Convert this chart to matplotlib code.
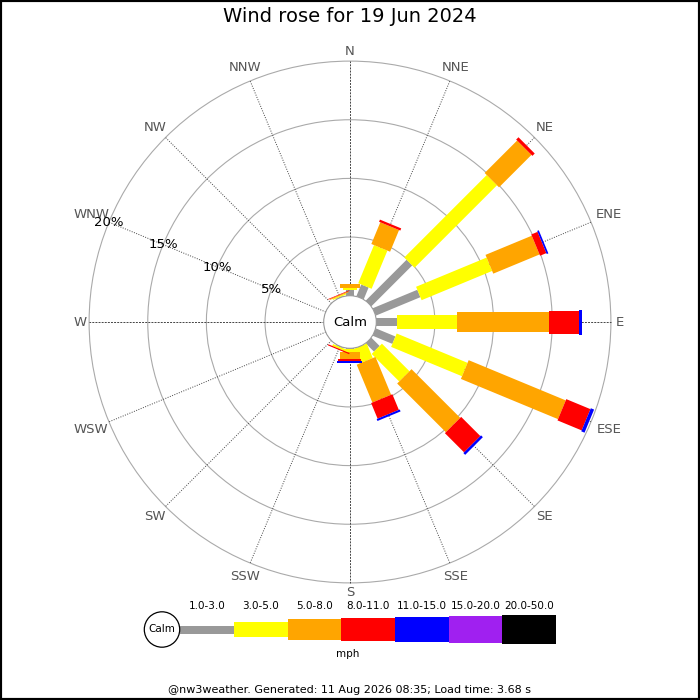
import matplotlib
matplotlib.use('Agg')
import matplotlib.pyplot as plt
import numpy as np
from matplotlib.patches import Polygon, Circle, Rectangle

directions = ['N', 'NNE', 'NE', 'ENE', 'E', 'ESE', 'SE', 'SSE',
              'S', 'SSW', 'SW', 'WSW', 'W', 'WNW', 'NW', 'NNW']
speed_bins = ['1.0-3.0', '3.0-5.0', '5.0-8.0', '8.0-11.0', '11.0-15.0', '15.0-20.0', '20.0-50.0']
bin_colors = ['#999999', '#ffff00', '#ffa500', '#ff0000', '#0000ff', '#a020f0', '#000000']

# percent of time per direction, one list per speed bin (N, NNE, ... NNW)
pct_1_3 = [0.46, 1.08, 4.92, 4.11, 1.76, 1.81, 0.99, 0.00, 0.10, 0.05, 0, 0, 0, 0, 0, 0.05]
pct_3_5 = [0.22, 3.52, 9.94, 6.51, 5.12, 6.54, 3.32, 1.34, 0.20, 0.17, 0, 0, 0, 0, 0, 0.10]
pct_5_8 = [0.32, 2.00, 3.91, 4.27, 7.84, 8.96, 5.87, 3.49, 0.64, 0.00, 0, 0, 0, 0, 0, 0.08]
pct_8_11 = [0.00, 0.20, 0.28, 0.58, 2.56, 2.23, 2.31, 1.44, 0.12, 0.10, 0, 0, 0, 0, 0, 0.05]
pct_11_15 = [0.00, 0.00, 0.00, 0.15, 0.26, 0.30, 0.22, 0.18, 0.22, 0.00, 0, 0, 0, 0, 0, 0.00]
pct_15_20 = [0] * 16
pct_20_50 = [0] * 16
ring_pcts = [5, 10, 15, 20]

title = 'Wind rose for 19 Jun 2024'
footer = '@nw3weather. Generated: 11 Aug 2026 08:35; Load time: 3.68 s'

series = [pct_1_3, pct_3_5, pct_5_8, pct_8_11, pct_11_15, pct_15_20, pct_20_50]

# layout (pixels)
W = H = 700
k = 11.73           # px per percent
cx, cy = 350, 322   # rose centre
r0 = 26.3 / k       # calm circle radius in percent units
bar_px = [8, 14.5, 20.3, 23, 25, 26.3, 28.3]

fig = plt.figure(figsize=(7, 7), dpi=100)
ax = fig.add_axes([0, 0, 1, 1])
ax.set_xlim(-cx / k, (W - cx) / k)
ax.set_ylim(-(H - cy) / k, cy / k)
ax.axis('off')

rmax = r0 + ring_pcts[-1]
theta = np.deg2rad(90 - 22.5 * np.arange(16))

# grid
for p in ring_pcts:
    ax.add_patch(Circle((0, 0), r0 + p, fill=False, ec='#aaaaaa', lw=0.8, zorder=1))
for i, t in enumerate(theta):
    ls = (0, (2, 1.2)) if i % 4 == 0 else (0, (1, 1.5))
    ax.plot([r0 * np.cos(t), rmax * np.cos(t)], [r0 * np.sin(t), rmax * np.sin(t)],
            color='#444444', lw=0.7, ls=ls, zorder=1)

# compass labels
for lab, t in zip(directions, theta):
    wpx = 9.3 * len(lab)
    rr = rmax + (4.5 + 0.5 * wpx * abs(np.cos(t)) + 5 * abs(np.sin(t))) / k
    ax.text(rr * np.cos(t), rr * np.sin(t), lab, ha='center', va='center',
            fontsize=9.5, color='#555555', zorder=2)

# bars
for i, t in enumerate(theta):
    u = np.array([np.cos(t), np.sin(t)])
    pv = np.array([-np.sin(t), np.cos(t)])
    start = r0
    for j, vals in enumerate(series):
        v = vals[i]
        if v <= 0:
            continue
        hw = bar_px[j] / 2 / k
        end = start + v
        pts = [u * start + pv * hw, u * end + pv * hw, u * end - pv * hw, u * start - pv * hw]
        ax.add_patch(Polygon(pts, closed=True, fc=bin_colors[j], ec='none', zorder=3))
        start = end

# percent labels along WNW
t_lab = np.deg2rad(157.5)
for p in ring_pcts:
    rr = r0 + p
    ax.text(rr * np.cos(t_lab), rr * np.sin(t_lab), '%d%%' % p, ha='center', va='center',
            fontsize=9.5, color='black', zorder=4)

# calm circle
ax.add_patch(Circle((0, 0), r0, fc='white', ec='#999999', lw=0.8, zorder=5))
ax.text(0, 0, 'Calm', ha='center', va='center', fontsize=9.5, zorder=6)

# legend (pixel coordinates)
lg = fig.add_axes([140 / W, (H - 660) / H, 420 / W, 60 / H])
lg.set_xlim(140, 560)
lg.set_ylim(660, 600)
lg.axis('off')
seg0, seg1 = 180.5, 556
seg_w = (seg1 - seg0) / len(speed_bins)
ly = 629.5
for j, lab in enumerate(speed_bins):
    x0 = seg0 + j * seg_w
    lg.add_patch(Rectangle((x0, ly - bar_px[j] / 2), seg_w, bar_px[j], fc=bin_colors[j], ec='none'))
    lg.text(x0 + seg_w / 2, 606, lab, ha='center', va='center', fontsize=7.5)
lg.add_patch(Circle((162, ly), 17.7, fc='white', ec='black', lw=0.9))
lg.text(162, ly, 'Calm', ha='center', va='center', fontsize=7.5)
lg.text((140 + seg1) / 2, 654, 'mph', ha='center', va='center', fontsize=7.5)

fig.text(0.5, 1 - 17 / H, title, ha='center', va='center', fontsize=14)
fig.text(0.5, 1 - 690 / H, footer, ha='center', va='center', fontsize=8)
fig.patches.append(Rectangle((0, 0), 1, 1, transform=fig.transFigure, fill=False,
                             ec='black', lw=3))

fig.savefig('out.png', dpi=100)
